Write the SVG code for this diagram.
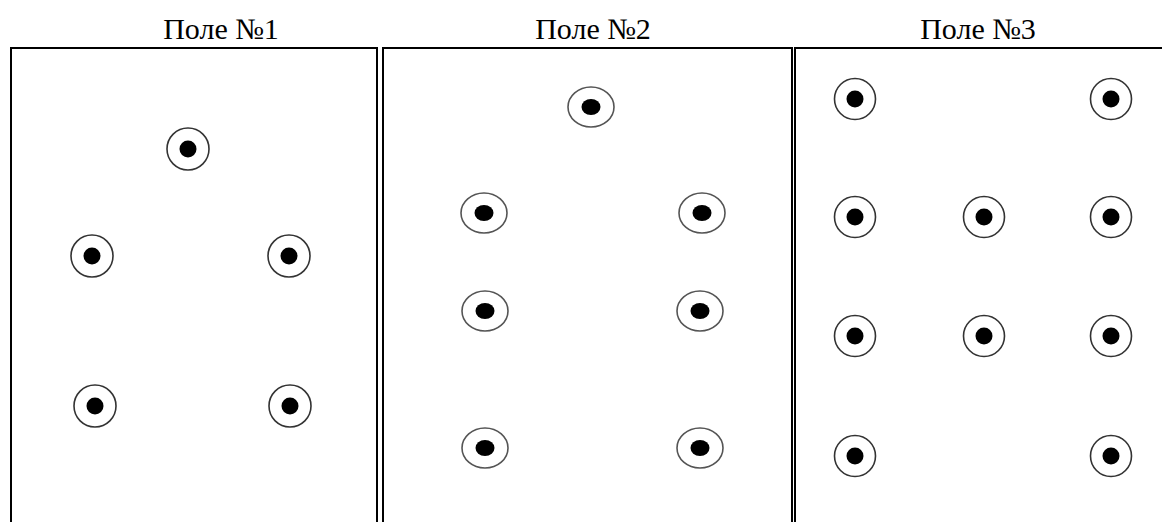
<svg xmlns="http://www.w3.org/2000/svg" width="1162" height="522" viewBox="0 0 1162 522">
<style>
.lbl{font-family:"Liberation Serif","Times New Roman",serif;font-size:30px;fill:#000;text-anchor:middle}
.frame{fill:none;stroke:#000;stroke-width:2}
.ring{fill:#fff;stroke:#333;stroke-width:1.6}
.ring2{fill:#fff;stroke:#555;stroke-width:1.6}
.dot{fill:#000}
</style>
<rect width="1162" height="522" fill="#fff"/>
<g id="field1">
<text class="lbl" x="221" y="39">Поле №1</text>
<rect x="11" y="48" width="366" height="490" fill="#fff" class="frame"/>
<g id="f1n1"><circle class="ring" cx="188" cy="149" r="21"/><circle class="dot" cx="188" cy="149" r="8.5"/></g>
<g id="f1n2"><circle class="ring" cx="92" cy="256" r="21"/><circle class="dot" cx="92" cy="256" r="8.5"/></g>
<g id="f1n3"><circle class="ring" cx="289" cy="256" r="21"/><circle class="dot" cx="289" cy="256" r="8.5"/></g>
<g id="f1n4"><circle class="ring" cx="95" cy="406" r="21"/><circle class="dot" cx="95" cy="406" r="8.5"/></g>
<g id="f1n5"><circle class="ring" cx="290" cy="406" r="21"/><circle class="dot" cx="290" cy="406" r="8.5"/></g>
</g>
<g id="field2">
<text class="lbl" x="593" y="39">Поле №2</text>
<rect x="383" y="48" width="409" height="490" fill="#fcfcfa" class="frame"/>
<g id="f2n1"><ellipse class="ring2" cx="591" cy="107" rx="23" ry="20"/><ellipse class="dot" cx="591" cy="107" rx="9.5" ry="8"/></g>
<g id="f2n2"><ellipse class="ring2" cx="484" cy="213" rx="23" ry="20"/><ellipse class="dot" cx="484" cy="213" rx="9.5" ry="8"/></g>
<g id="f2n3"><ellipse class="ring2" cx="702" cy="213" rx="23" ry="20"/><ellipse class="dot" cx="702" cy="213" rx="9.5" ry="8"/></g>
<g id="f2n4"><ellipse class="ring2" cx="485" cy="311" rx="23" ry="20"/><ellipse class="dot" cx="485" cy="311" rx="9.5" ry="8"/></g>
<g id="f2n5"><ellipse class="ring2" cx="700" cy="311" rx="23" ry="20"/><ellipse class="dot" cx="700" cy="311" rx="9.5" ry="8"/></g>
<g id="f2n6"><ellipse class="ring2" cx="485" cy="448" rx="23" ry="20"/><ellipse class="dot" cx="485" cy="448" rx="9.5" ry="8"/></g>
<g id="f2n7"><ellipse class="ring2" cx="700" cy="448" rx="23" ry="20"/><ellipse class="dot" cx="700" cy="448" rx="9.5" ry="8"/></g>
</g>
<g id="field3">
<text class="lbl" x="978" y="39">Поле №3</text>
<rect x="795" y="48" width="380" height="490" fill="#fff" class="frame"/>
<g id="f3n1"><circle class="ring" cx="855" cy="99" r="20.5"/><circle class="dot" cx="855" cy="99" r="8.5"/></g>
<g id="f3n2"><circle class="ring" cx="1111" cy="99" r="20.5"/><circle class="dot" cx="1111" cy="99" r="8.5"/></g>
<g id="f3n3"><circle class="ring" cx="855" cy="217" r="20.5"/><circle class="dot" cx="855" cy="217" r="8.5"/></g>
<g id="f3n4"><circle class="ring" cx="984" cy="217" r="20.5"/><circle class="dot" cx="984" cy="217" r="8.5"/></g>
<g id="f3n5"><circle class="ring" cx="1111" cy="217" r="20.5"/><circle class="dot" cx="1111" cy="217" r="8.5"/></g>
<g id="f3n6"><circle class="ring" cx="855" cy="336" r="20.5"/><circle class="dot" cx="855" cy="336" r="8.5"/></g>
<g id="f3n7"><circle class="ring" cx="984" cy="336" r="20.5"/><circle class="dot" cx="984" cy="336" r="8.5"/></g>
<g id="f3n8"><circle class="ring" cx="1111" cy="336" r="20.5"/><circle class="dot" cx="1111" cy="336" r="8.5"/></g>
<g id="f3n9"><circle class="ring" cx="855" cy="456" r="20.5"/><circle class="dot" cx="855" cy="456" r="8.5"/></g>
<g id="f3n10"><circle class="ring" cx="1111" cy="456" r="20.5"/><circle class="dot" cx="1111" cy="456" r="8.5"/></g>
</g>
<g id="connectors"/>
</svg>
